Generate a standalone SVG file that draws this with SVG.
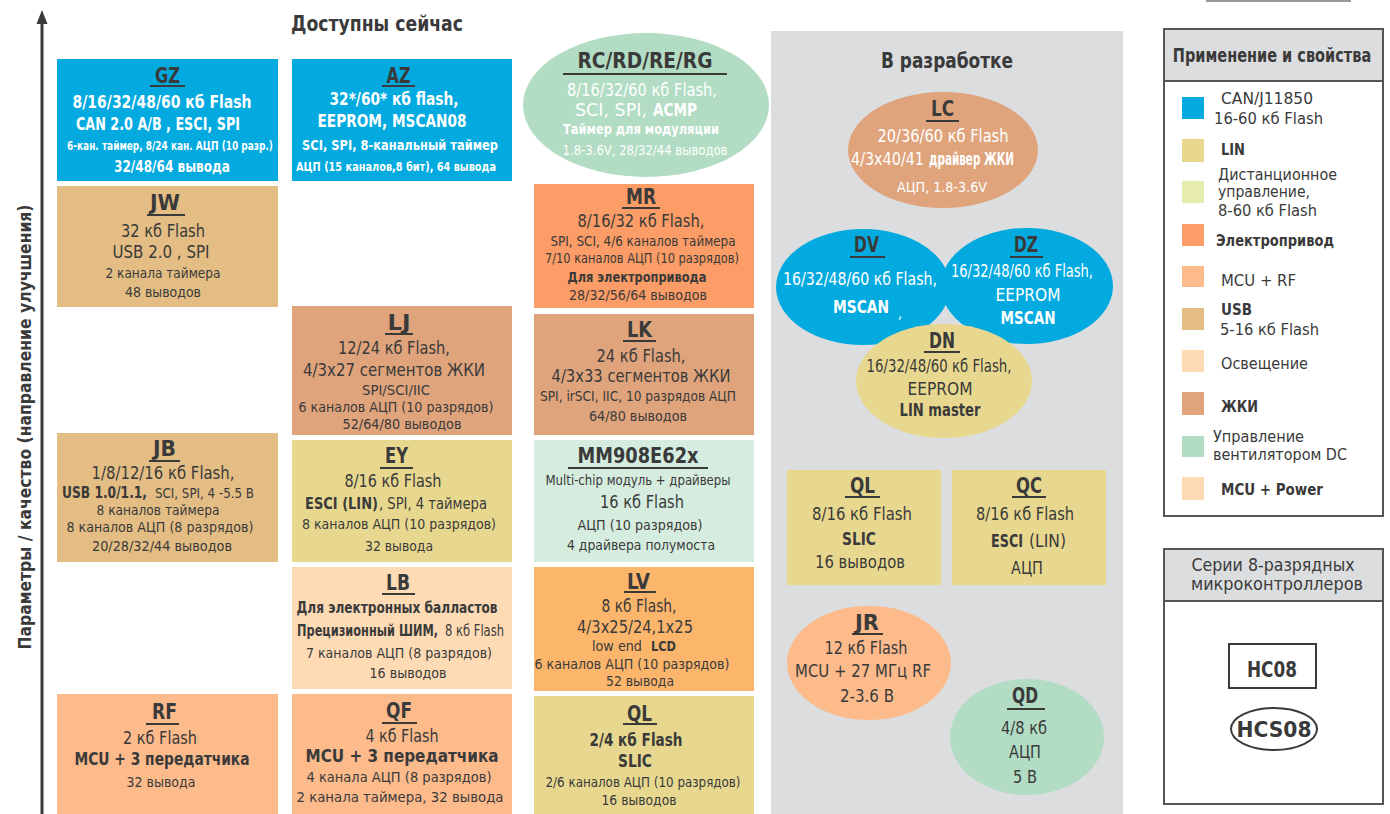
<svg xmlns="http://www.w3.org/2000/svg" width="1390" height="814" viewBox="0 0 1390 814">
<style>
text{font-family:"Liberation Sans Narrow","DejaVu Sans Condensed","Liberation Sans",sans-serif;fill:#3a3a3a;text-anchor:middle}
.h{font-size:22px;font-weight:bold}
.b{font-size:17px}
.s{font-size:14px}
.k{font-weight:bold}
.w{fill:#fff}
.st{text-anchor:start}
.l{text-anchor:start;font-size:16px}
.ul{stroke:#3a3a3a;stroke-width:2}
.blue{fill:#02aadf}.tan{fill:#e3bd84}.lcd{fill:#dfa47c}.lin{fill:#e8d88f}
.peach{fill:#fdbb8c}.light{fill:#fedbb5}.motor{fill:#fc9c66}.lv{fill:#fcb66c}
.mint{fill:#b2dcc3}.mm{fill:#d5ecdf}.gray{fill:#dcdddf}
</style>
<rect width="1390" height="814" fill="#fff"/>
<rect x="1206" y="0" width="145" height="2" fill="#9a9a9a"/>

<g id="axis">
<line x1="42" y1="20" x2="42" y2="814" stroke="#3a3a3a" stroke-width="3"/>
<polygon points="42,10 36.5,24 47.5,24" fill="#3a3a3a"/>
<text class="k" style="font-size:18px" x="31" y="427" transform="rotate(-90 31 427)" textLength="445" lengthAdjust="spacingAndGlyphs">Параметры / качество (направление улучшения)</text>
</g>

<text class="h" x="377" y="31" textLength="172" lengthAdjust="spacingAndGlyphs">Доступны сейчас</text>

<rect class="gray" x="771" y="31" width="352" height="783"/>
<text class="h" x="947" y="68" textLength="132" lengthAdjust="spacingAndGlyphs">В разработке</text>

<g id="connectors"></g>

<g id="GZ">
<rect class="blue" x="57" y="59" width="221" height="122"/>
<text class="h" x="167.5" y="83" textLength="25" lengthAdjust="spacingAndGlyphs">GZ</text>
<line class="ul" x1="150" y1="86" x2="185" y2="86"/>
<text class="b k w" x="162" y="108" textLength="179" lengthAdjust="spacingAndGlyphs">8/16/32/48/60 кб Flash</text>
<text class="b k w" x="158" y="130" textLength="164" lengthAdjust="spacingAndGlyphs">CAN 2.0 A/B , ESCI, SPI</text>
<text class="k w" style="font-size:13px" transform="translate(170 150) scale(0.66 1)" x="0" y="0" textLength="312" lengthAdjust="spacingAndGlyphs">6-кан. таймер,  8/24 кан. АЦП  (10 разр.)</text>
<text class="k w" style="font-size:15px" x="172" y="172" textLength="116" lengthAdjust="spacingAndGlyphs">32/48/64 вывода</text>
</g>

<g id="JW">
<rect class="tan" x="57" y="186" width="221" height="121"/>
<text class="h" x="165" y="210" textLength="30" lengthAdjust="spacingAndGlyphs">JW</text>
<line class="ul" x1="147" y1="215" x2="185" y2="215"/>
<text class="b" x="163" y="237" textLength="84" lengthAdjust="spacingAndGlyphs">32 кб Flash</text>
<text class="b" x="161" y="258" textLength="97" lengthAdjust="spacingAndGlyphs">USB 2.0 , SPI</text>
<text class="s" x="163" y="278" textLength="115" lengthAdjust="spacingAndGlyphs">2 канала таймера</text>
<text class="s" x="163" y="297" textLength="76" lengthAdjust="spacingAndGlyphs">48 выводов</text>
</g>

<g id="JB">
<rect class="tan" x="57" y="433" width="221" height="129"/>
<text class="h" x="164.5" y="456" textLength="23" lengthAdjust="spacingAndGlyphs">JB</text>
<line class="ul" x1="149" y1="461" x2="180" y2="461"/>
<text class="b" x="163" y="479" textLength="143" lengthAdjust="spacingAndGlyphs">1/8/12/16 кб Flash,</text>
<text class="k st" style="font-size:16px" x="62" y="498" textLength="85" lengthAdjust="spacingAndGlyphs">USB 1.0/1.1,</text>
<text class="s st" x="155" y="498" textLength="99" lengthAdjust="spacingAndGlyphs">SCI, SPI, 4 -5.5 В</text>
<text class="s" x="158" y="515" textLength="123" lengthAdjust="spacingAndGlyphs">8 каналов таймера</text>
<text class="s" x="160" y="532" textLength="187" lengthAdjust="spacingAndGlyphs">8 каналов АЦП (8 разрядов)</text>
<text class="s" x="162" y="551" textLength="140" lengthAdjust="spacingAndGlyphs">20/28/32/44 выводов</text>
</g>

<g id="RF">
<rect class="peach" x="57" y="694" width="221" height="120"/>
<text class="h" x="164.5" y="719" textLength="25" lengthAdjust="spacingAndGlyphs">RF</text>
<line class="ul" x1="146" y1="724" x2="179" y2="724"/>
<text class="b" x="160" y="744" textLength="74" lengthAdjust="spacingAndGlyphs">2 кб Flash</text>
<text class="b k" x="162" y="765" textLength="175" lengthAdjust="spacingAndGlyphs">MCU + 3 передатчика</text>
<text class="s" x="161" y="787" textLength="69" lengthAdjust="spacingAndGlyphs">32 вывода</text>
</g>

<g id="AZ">
<rect class="blue" x="292" y="59" width="220" height="122"/>
<text class="h" x="398.5" y="83" textLength="24" lengthAdjust="spacingAndGlyphs">AZ</text>
<line class="ul" x1="382" y1="86" x2="415" y2="86"/>
<text class="b k w" x="394" y="105" textLength="129" lengthAdjust="spacingAndGlyphs">32*/60* кб flash,</text>
<text class="b k w" x="392" y="127" textLength="149" lengthAdjust="spacingAndGlyphs">EEPROM, MSCAN08</text>
<text class="k w" style="font-size:13.5px" x="400" y="150" textLength="196" lengthAdjust="spacingAndGlyphs">SCI, SPI, 8-канальный таймер</text>
<text class="k w" style="font-size:13px" x="396" y="171" textLength="200" lengthAdjust="spacingAndGlyphs">АЦП (15 каналов,8 бит), 64 вывода</text>
</g>

<g id="LJ">
<rect class="lcd" x="292" y="306" width="220" height="129"/>
<text class="h" x="399" y="330" textLength="23" lengthAdjust="spacingAndGlyphs">LJ</text>
<line class="ul" x1="385" y1="334" x2="413" y2="334"/>
<text class="b" x="394" y="354" textLength="112" lengthAdjust="spacingAndGlyphs">12/24 кб Flash,</text>
<text class="b" x="394" y="376" textLength="182" lengthAdjust="spacingAndGlyphs">4/3x27  сегментов ЖКИ</text>
<text class="s" x="396" y="395" textLength="68" lengthAdjust="spacingAndGlyphs">SPI/SCI/IIC</text>
<text class="s" x="396" y="412" textLength="195" lengthAdjust="spacingAndGlyphs">6 каналов АЦП (10 разрядов)</text>
<text class="s" x="402" y="429" textLength="119" lengthAdjust="spacingAndGlyphs">52/64/80 выводов</text>
</g>

<g id="EY">
<rect class="lin" x="292" y="440" width="220" height="122"/>
<text class="h" x="396.5" y="463" textLength="23" lengthAdjust="spacingAndGlyphs">EY</text>
<line class="ul" x1="380" y1="468" x2="413" y2="468"/>
<text class="b" x="393" y="487" textLength="97" lengthAdjust="spacingAndGlyphs">8/16 кб Flash</text>
<text class="k st" style="font-size:16px" x="305" y="509" textLength="73" lengthAdjust="spacingAndGlyphs">ESCI (LIN)</text>
<text class="st" style="font-size:16px" x="379" y="509" textLength="108" lengthAdjust="spacingAndGlyphs">, SPI, 4 таймера</text>
<text class="s" x="399" y="529" textLength="194" lengthAdjust="spacingAndGlyphs">8 каналов АЦП (10 разрядов)</text>
<text class="s" x="399" y="551" textLength="68" lengthAdjust="spacingAndGlyphs">32 вывода</text>
</g>

<g id="LB">
<rect class="light" x="292" y="567" width="220" height="122"/>
<text class="h" x="398" y="590" textLength="24" lengthAdjust="spacingAndGlyphs">LB</text>
<line class="ul" x1="382" y1="594" x2="415" y2="594"/>
<text class="k" style="font-size:15px" x="397" y="613" textLength="201" lengthAdjust="spacingAndGlyphs">Для электронных балластов</text>
<text class="k st" style="font-size:15px" transform="translate(297 636) scale(0.85 1)" x="0" y="0" textLength="166" lengthAdjust="spacingAndGlyphs">Прецизионный ШИМ,</text>
<text class="st" style="font-size:15px" x="445" y="636" textLength="59" lengthAdjust="spacingAndGlyphs">8 кб Flash</text>
<text class="s" x="399" y="658" textLength="186" lengthAdjust="spacingAndGlyphs">7 каналов АЦП (8 разрядов)</text>
<text class="s" x="408" y="678" textLength="77" lengthAdjust="spacingAndGlyphs">16 выводов</text>
</g>

<g id="QF">
<rect class="peach" x="292" y="694" width="220" height="120"/>
<text class="h" x="399" y="718" textLength="26" lengthAdjust="spacingAndGlyphs">QF</text>
<line class="ul" x1="382" y1="723" x2="417" y2="723"/>
<text class="b" x="402" y="742" textLength="73" lengthAdjust="spacingAndGlyphs">4 кб Flash</text>
<text class="b k" x="402" y="762" textLength="193" lengthAdjust="spacingAndGlyphs">MCU + 3 передатчика</text>
<text class="s" x="399" y="782" textLength="185" lengthAdjust="spacingAndGlyphs">4 канала АЦП (8 разрядов)</text>
<text class="s" x="400" y="802" textLength="207" lengthAdjust="spacingAndGlyphs">2 канала таймера, 32 вывода</text>
</g>

<g id="RC">
<ellipse class="mint" cx="646" cy="105" rx="123" ry="72"/>
<text class="h" x="645" y="68" textLength="135" lengthAdjust="spacingAndGlyphs">RC/RD/RE/RG</text>
<line class="ul" x1="563" y1="74" x2="727" y2="74"/>
<text class="b w" x="642" y="96" textLength="150" lengthAdjust="spacingAndGlyphs">8/16/32/60 кб Flash,</text>
<text class="b w st" x="575" y="116" textLength="72" lengthAdjust="spacingAndGlyphs">SCI, SPI,</text>
<text class="b k w st" x="653" y="116" textLength="44" lengthAdjust="spacingAndGlyphs">ACMP</text>
<text class="s k w" x="641" y="134" textLength="156" lengthAdjust="spacingAndGlyphs">Таймер для модуляции</text>
<text class="s w" x="645" y="155" textLength="165" lengthAdjust="spacingAndGlyphs">1.8-3.6V, 28/32/44 выводов</text>
</g>

<g id="MR">
<rect class="motor" x="534" y="184" width="220" height="124"/>
<text class="h" x="641" y="204" textLength="30" lengthAdjust="spacingAndGlyphs">MR</text>
<line class="ul" x1="622" y1="208" x2="660" y2="208"/>
<text class="b" x="641" y="227" textLength="127" lengthAdjust="spacingAndGlyphs">8/16/32 кб Flash,</text>
<text class="s" x="643" y="246" textLength="185" lengthAdjust="spacingAndGlyphs">SPI, SCI, 4/6 каналов таймера</text>
<text class="s" x="642" y="263" textLength="194" lengthAdjust="spacingAndGlyphs">7/10 каналов АЦП  (10 разрядов)</text>
<text class="s k" x="637" y="282" textLength="139" lengthAdjust="spacingAndGlyphs">Для электропривода</text>
<text class="s" x="638" y="300" textLength="138" lengthAdjust="spacingAndGlyphs">28/32/56/64 выводов</text>
</g>

<g id="LK">
<rect class="lcd" x="534" y="314" width="220" height="121"/>
<text class="h" x="639.5" y="337" textLength="25" lengthAdjust="spacingAndGlyphs">LK</text>
<line class="ul" x1="623" y1="341" x2="656" y2="341"/>
<text class="b" x="641" y="362" textLength="89" lengthAdjust="spacingAndGlyphs">24 кб Flash,</text>
<text class="b" x="641" y="382" textLength="179" lengthAdjust="spacingAndGlyphs">4/3x33 сегментов ЖКИ</text>
<text class="s" x="638" y="401" textLength="196" lengthAdjust="spacingAndGlyphs">SPI, irSCI, IIC, 10 разрядов АЦП</text>
<text class="s" x="638" y="421" textLength="98" lengthAdjust="spacingAndGlyphs">64/80 выводов</text>
</g>

<g id="MM908E62x">
<rect class="mm" x="534" y="440" width="220" height="122"/>
<text class="h" x="638" y="463" textLength="121" lengthAdjust="spacingAndGlyphs">MM908E62x</text>
<line class="ul" x1="568" y1="468" x2="708" y2="468"/>
<text class="s" x="638" y="485" textLength="185" lengthAdjust="spacingAndGlyphs">Multi-chip модуль + драйверы</text>
<text class="b" x="642" y="508" textLength="84" lengthAdjust="spacingAndGlyphs">16 кб Flash</text>
<text class="s" x="640" y="530" textLength="125" lengthAdjust="spacingAndGlyphs">АЦП (10 разрядов)</text>
<text class="s" x="641" y="550" textLength="148" lengthAdjust="spacingAndGlyphs">4 драйвера полумоста</text>
</g>

<g id="LV">
<rect class="lv" x="534" y="567" width="220" height="124"/>
<text class="h" x="638.5" y="589" textLength="23" lengthAdjust="spacingAndGlyphs">LV</text>
<line class="ul" x1="624" y1="592" x2="656" y2="592"/>
<text class="b" x="639" y="612" textLength="75" lengthAdjust="spacingAndGlyphs">8 кб Flash,</text>
<text class="b" x="635" y="633" textLength="116" lengthAdjust="spacingAndGlyphs">4/3x25/24,1x25</text>
<text class="s st" x="592" y="651" textLength="50" lengthAdjust="spacingAndGlyphs">low end</text>
<text class="s k st" x="651" y="651" textLength="25" lengthAdjust="spacingAndGlyphs">LCD</text>
<text class="s" x="632" y="669" textLength="195" lengthAdjust="spacingAndGlyphs">6 каналов АЦП (10 разрядов)</text>
<text class="s" x="640" y="686" textLength="68" lengthAdjust="spacingAndGlyphs">52 вывода</text>
</g>

<g id="QL">
<rect class="lin" x="534" y="696" width="220" height="118"/>
<text class="h" x="639.5" y="721" textLength="25" lengthAdjust="spacingAndGlyphs">QL</text>
<line class="ul" x1="623" y1="724" x2="657" y2="724"/>
<text class="b k" x="636" y="746" textLength="93" lengthAdjust="spacingAndGlyphs">2/4 кб Flash</text>
<text class="b k" x="635" y="767" textLength="34" lengthAdjust="spacingAndGlyphs">SLIC</text>
<text class="s" x="643" y="787" textLength="195" lengthAdjust="spacingAndGlyphs">2/6 каналов АЦП (10 разрядов)</text>
<text class="s" x="639" y="805" textLength="75" lengthAdjust="spacingAndGlyphs">16 выводов</text>
</g>

<g id="LC">
<ellipse class="lcd" cx="943" cy="150" rx="95" ry="58"/>
<text class="h" x="942.5" y="116" textLength="23" lengthAdjust="spacingAndGlyphs">LC</text>
<line class="ul" x1="926" y1="121" x2="959" y2="121"/>
<text class="b w" x="943" y="142" textLength="131" lengthAdjust="spacingAndGlyphs">20/36/60 кб Flash</text>
<text class="b w st" x="851" y="165" textLength="73" lengthAdjust="spacingAndGlyphs">4/3x40/41</text>
<text class="b k w st" x="929" y="165" textLength="85" lengthAdjust="spacingAndGlyphs">драйвер ЖКИ</text>
<text class="s w" x="942" y="192" textLength="90" lengthAdjust="spacingAndGlyphs">АЦП, 1.8-3.6V</text>
</g>

<g id="DV">
<ellipse class="blue" cx="863" cy="287" rx="87" ry="58"/>
<text class="h" x="866.5" y="252" textLength="25" lengthAdjust="spacingAndGlyphs">DV</text>
<line class="ul" x1="850" y1="257" x2="885" y2="257"/>
<text class="b w" x="860" y="285" textLength="154" lengthAdjust="spacingAndGlyphs">16/32/48/60 кб Flash,</text>
<text class="b k w" x="861" y="313" textLength="56" lengthAdjust="spacingAndGlyphs">MSCAN</text>
<text class="s w" x="900" y="318">,</text>
</g>

<g id="DZ">
<ellipse class="blue" cx="1027" cy="286" rx="86" ry="58"/>
<text class="h" x="1026" y="252" textLength="24" lengthAdjust="spacingAndGlyphs">DZ</text>
<line class="ul" x1="1010" y1="257" x2="1043" y2="257"/>
<text class="b w" x="1022" y="277" textLength="142" lengthAdjust="spacingAndGlyphs">16/32/48/60 кб Flash,</text>
<text class="b w" x="1028" y="301" textLength="65" lengthAdjust="spacingAndGlyphs">EEPROM</text>
<text class="b k w" x="1028" y="324" textLength="55" lengthAdjust="spacingAndGlyphs">MSCAN</text>
</g>

<g id="DN">
<ellipse class="lin" cx="944" cy="381" rx="88" ry="57"/>
<text class="h" x="942" y="348" textLength="26" lengthAdjust="spacingAndGlyphs">DN</text>
<line class="ul" x1="924" y1="352" x2="960" y2="352"/>
<text class="b" x="939" y="372" textLength="145" lengthAdjust="spacingAndGlyphs">16/32/48/60 кб Flash,</text>
<text class="b" x="940" y="395" textLength="65" lengthAdjust="spacingAndGlyphs">EEPROM</text>
<text class="b k" x="940" y="416" textLength="81" lengthAdjust="spacingAndGlyphs">LIN master</text>
</g>

<g id="QL-dev">
<rect class="lin" x="787" y="470" width="154" height="115"/>
<text class="h" x="862.5" y="493" textLength="25" lengthAdjust="spacingAndGlyphs">QL</text>
<line class="ul" x1="845" y1="497" x2="880" y2="497"/>
<text class="b" x="862" y="520" textLength="100" lengthAdjust="spacingAndGlyphs">8/16 кб Flash</text>
<text class="b k" x="859" y="545" textLength="34" lengthAdjust="spacingAndGlyphs">SLIC</text>
<text class="b" x="860" y="568" textLength="90" lengthAdjust="spacingAndGlyphs">16 выводов</text>
</g>

<g id="QC">
<rect class="lin" x="952" y="470" width="154" height="115"/>
<text class="h" x="1029" y="493" textLength="26" lengthAdjust="spacingAndGlyphs">QC</text>
<line class="ul" x1="1012" y1="497" x2="1046" y2="497"/>
<text class="b" x="1025" y="520" textLength="98" lengthAdjust="spacingAndGlyphs">8/16 кб Flash</text>
<text class="b k st" x="991" y="547" textLength="32" lengthAdjust="spacingAndGlyphs">ESCI</text>
<text class="b st" x="1029" y="547" textLength="37" lengthAdjust="spacingAndGlyphs">(LIN)</text>
<text class="b" x="1027" y="574" textLength="32" lengthAdjust="spacingAndGlyphs">АЦП</text>
</g>

<g id="JR">
<ellipse class="peach" cx="869" cy="663" rx="82" ry="57"/>
<text class="h" x="867" y="630" textLength="24" lengthAdjust="spacingAndGlyphs">JR</text>
<line class="ul" x1="852" y1="634" x2="883" y2="634"/>
<text class="b" x="866" y="654" textLength="83" lengthAdjust="spacingAndGlyphs">12 кб Flash</text>
<text class="b" x="863" y="677" textLength="136" lengthAdjust="spacingAndGlyphs">MCU + 27 МГц RF</text>
<text class="b" x="867" y="702" textLength="54" lengthAdjust="spacingAndGlyphs">2-3.6 В</text>
</g>

<g id="QD">
<ellipse class="mint" cx="1027" cy="737" rx="77" ry="58"/>
<text class="h" x="1025" y="703" textLength="26" lengthAdjust="spacingAndGlyphs">QD</text>
<line class="ul" x1="1007" y1="709" x2="1045" y2="709"/>
<text class="b" x="1024" y="734" textLength="46" lengthAdjust="spacingAndGlyphs">4/8 кб</text>
<text class="b" x="1025" y="758" textLength="32" lengthAdjust="spacingAndGlyphs">АЦП</text>
<text class="b" x="1025" y="783" textLength="24" lengthAdjust="spacingAndGlyphs">5 В</text>
</g>

<g id="legend">
<rect x="1164" y="29" width="219" height="487" fill="#fff" stroke="#555" stroke-width="2"/>
<rect class="gray" x="1165" y="30" width="217" height="51"/>
<line x1="1164" y1="81" x2="1383" y2="81" stroke="#555" stroke-width="2"/>
<text class="k" style="font-size:20px" transform="translate(1272 62) scale(0.8 1)" x="0" y="0" textLength="248" lengthAdjust="spacingAndGlyphs">Применение и свойства</text>
<rect class="blue" x="1182" y="97" width="22" height="22"/>
<text class="l" x="1221" y="104" textLength="92" lengthAdjust="spacingAndGlyphs">CAN/J11850</text>
<text class="l" x="1214" y="124" textLength="109" lengthAdjust="spacingAndGlyphs">16-60 кб Flash</text>
<rect class="lin" x="1182" y="139" width="22" height="23"/>
<text class="l k" x="1221" y="155" textLength="24" lengthAdjust="spacingAndGlyphs">LIN</text>
<rect x="1182" y="181" width="22" height="22" fill="#e5ecac"/>
<text class="l" x="1218" y="180" textLength="119" lengthAdjust="spacingAndGlyphs">Дистанционное</text>
<text class="l" x="1218" y="197" textLength="92" lengthAdjust="spacingAndGlyphs">управление,</text>
<text class="l" x="1218" y="216" textLength="99" lengthAdjust="spacingAndGlyphs">8-60 кб Flash</text>
<rect class="motor" x="1182" y="224" width="22" height="22"/>
<text class="l k" x="1216" y="246" textLength="118" lengthAdjust="spacingAndGlyphs">Электропривод</text>
<rect class="peach" x="1182" y="266" width="22" height="21"/>
<text class="l" x="1221" y="286" textLength="75" lengthAdjust="spacingAndGlyphs">MCU + RF</text>
<rect class="tan" x="1182" y="308" width="22" height="22"/>
<text class="l k" x="1221" y="315" textLength="31" lengthAdjust="spacingAndGlyphs">USB</text>
<text class="l" x="1220" y="335" textLength="99" lengthAdjust="spacingAndGlyphs">5-16 кб Flash</text>
<rect class="light" x="1182" y="350" width="22" height="22"/>
<text class="l" x="1221" y="369" textLength="87" lengthAdjust="spacingAndGlyphs">Освещение</text>
<rect class="lcd" x="1182" y="392" width="22" height="23"/>
<text class="l k" x="1221" y="412" textLength="37" lengthAdjust="spacingAndGlyphs">ЖКИ</text>
<rect class="mint" x="1182" y="436" width="22" height="21"/>
<text class="l" x="1213" y="442" textLength="91" lengthAdjust="spacingAndGlyphs">Управление</text>
<text class="l" x="1213" y="460" textLength="134" lengthAdjust="spacingAndGlyphs">вентилятором DC</text>
<rect x="1182" y="477" width="22" height="23" fill="#fdd9b4"/>
<text class="l k" x="1221" y="495" textLength="102" lengthAdjust="spacingAndGlyphs">MCU + Power</text>
</g>

<g id="series">
<rect x="1164" y="549" width="219" height="255" fill="#fff" stroke="#555" stroke-width="2"/>
<rect class="gray" x="1165" y="550" width="217" height="51"/>
<line x1="1164" y1="601" x2="1383" y2="601" stroke="#555" stroke-width="2"/>
<text class="b" x="1273" y="571" textLength="163" lengthAdjust="spacingAndGlyphs">Серии 8-разрядных</text>
<text class="b" x="1277" y="590" textLength="172" lengthAdjust="spacingAndGlyphs">микроконтроллеров</text>
</g>
<g id="HC08">
<rect x="1229" y="644" width="87" height="44" fill="#fff" stroke="#3a3a3a" stroke-width="2"/>
<text class="h" x="1272" y="677" textLength="50" lengthAdjust="spacingAndGlyphs">HC08</text>
</g>
<g id="HCS08">
<ellipse cx="1274" cy="729" rx="43" ry="21" fill="#fff" stroke="#3a3a3a" stroke-width="2"/>
<text class="h" x="1274" y="737" textLength="75" lengthAdjust="spacingAndGlyphs">HCS08</text>
</g>
</svg>
